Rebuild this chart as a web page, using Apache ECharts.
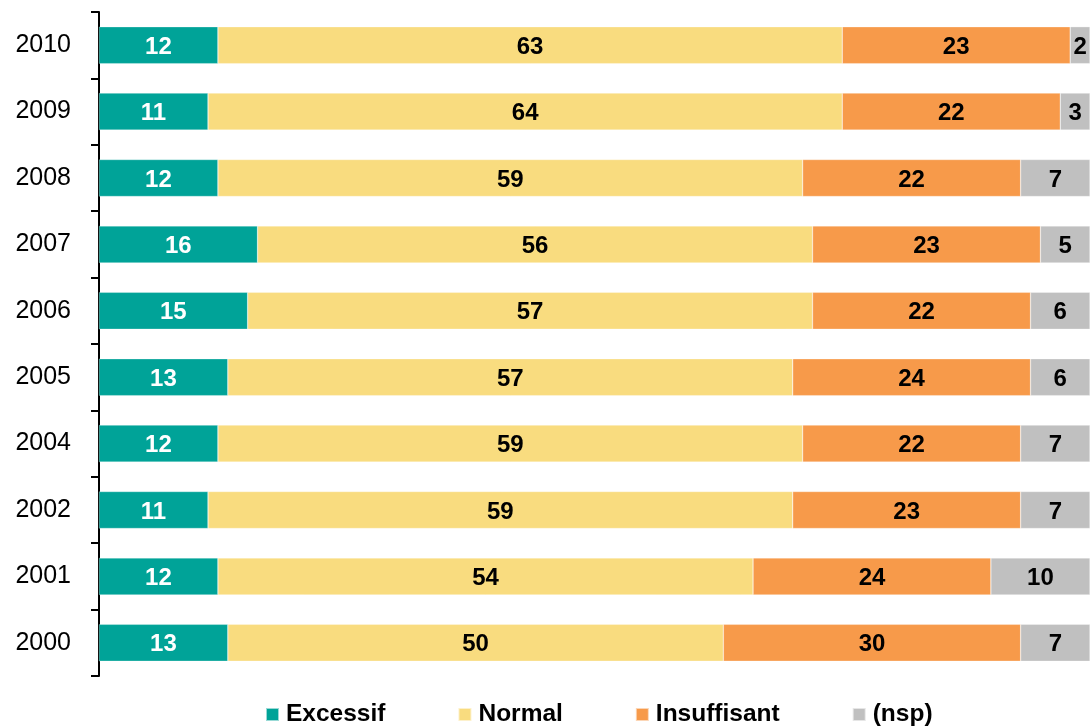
<!DOCTYPE html>
<html>
<head>
<meta charset="utf-8">
<script src="https://cdn.jsdelivr.net/npm/echarts@6/dist/echarts.min.js"></script>
<style>
  html, body { margin: 0; padding: 0; background: #fff; }
  #chart { width: 1091px; height: 726px; }
</style>
</head>
<body>
<div id="chart"></div>
<script>
// Years, top to bottom
const years = ['2010', '2009', '2008', '2007', '2006', '2005', '2004', '2002', '2001', '2000'];

// Share of answers per year (%)
const excessif    = [12, 11, 12, 16, 15, 13, 12, 11, 12, 13];
const normal      = [63, 64, 59, 56, 57, 57, 59, 59, 54, 50];
const insuffisant = [23, 22, 22, 23, 22, 24, 22, 23, 24, 30];
const nsp         = [2, 3, 7, 5, 6, 6, 7, 7, 10, 7];

const seriesNames = ['Excessif', 'Normal', 'Insuffisant', '(nsp)'];
const seriesData = [excessif, normal, insuffisant, nsp];
const colors = ['#00A398', '#F9DC7F', '#F79A4A', '#C0C0C0'];
const labelColors = ['#ffffff', '#000000', '#000000', '#000000'];

const FONT = '"Liberation Sans", Arial, sans-serif';

const chart = echarts.init(document.getElementById('chart'), null, { renderer: 'canvas' });

chart.setOption({
  animation: false,
  backgroundColor: '#ffffff',
  grid: { left: 99, right: 1, top: 12, bottom: 50, containLabel: false },
  legend: {
    top: 702,
    left: 265,
    padding: 0,
    itemWidth: 13,
    itemHeight: 13,
    itemGap: 72,
    icon: 'rect',
    textStyle: { fontFamily: FONT, fontSize: 24.5, fontWeight: 'bold', color: '#000', padding: [4, 0, 0, 2] },
    data: seriesNames
  },
  xAxis: {
    type: 'value',
    min: 0,
    max: 100,
    show: false
  },
  yAxis: {
    type: 'category',
    inverse: true,
    data: years,
    axisLine: { show: true, lineStyle: { color: '#000', width: 2 } },
    axisTick: { show: true, length: 8, lineStyle: { color: '#000', width: 2 } },
    axisLabel: { fontFamily: FONT, fontSize: 25, color: '#000', margin: 28, padding: [5, 0, 0, 0] }
  },
  series: seriesNames.map((name, i) => ({
    name: name,
    type: 'bar',
    stack: 'total',
    barWidth: 37,
    data: seriesData[i],
    itemStyle: { color: colors[i], borderColor: 'rgba(255,255,255,0.6)', borderWidth: 0.5 },
    label: {
      show: true,
      position: 'inside',
      fontFamily: FONT,
      fontSize: 24,
      fontWeight: 'bold',
      color: labelColors[i],
      offset: [0, 2]
    }
  }))
});
</script>
</body>
</html>
